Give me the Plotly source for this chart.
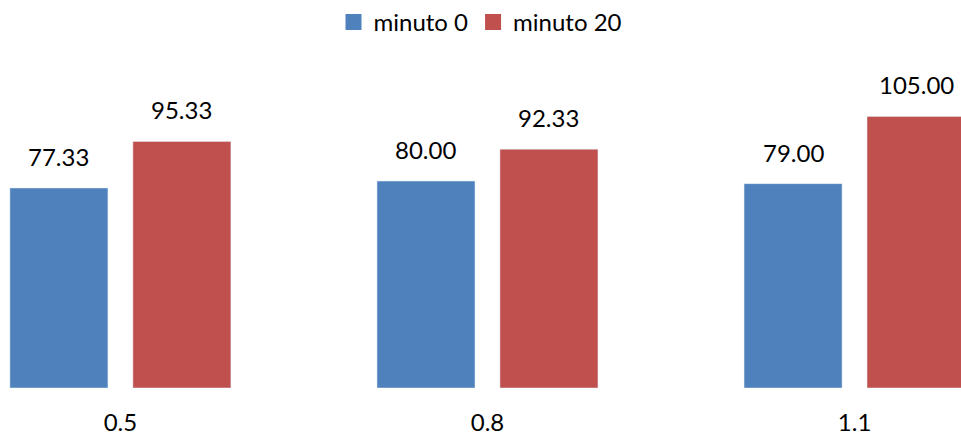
import plotly.graph_objects as go

# Chart data
categories = ["0.5", "0.8", "1.1"]
minute0 = [77.33, 80.00, 79.00]
minute20 = [95.33, 92.33, 105.00]
series_names = ["minuto 0", "minuto 20"]

BLUE = "#4F81BD"
RED = "#C0504D"
FONT = "Lato"
FSIZE = 24

idx = list(range(len(categories)))
bar_w = 0.267
gap = 0.068

fig = go.Figure()
fig.add_trace(go.Bar(
    x=idx, y=minute0, name=series_names[0], marker_color=BLUE,
    width=bar_w, offset=-(bar_w + gap / 2), showlegend=False,
))
fig.add_trace(go.Bar(
    x=idx, y=minute20, name=series_names[1], marker_color=RED,
    width=bar_w, offset=gap / 2, showlegend=False,
))

# legend entries with larger square swatches
for name, color in zip(series_names, [BLUE, RED]):
    fig.add_trace(go.Scatter(
        x=[None], y=[None], mode="markers", name=name,
        marker=dict(symbol="square", size=16, color=color),
    ))

# value labels above the bars
shift = bar_w / 2 + gap / 2
for i, v in zip(idx, minute0):
    fig.add_annotation(x=i - shift, y=v, text=f"{v:.2f}", showarrow=False,
                       yanchor="bottom", yshift=15,
                       font=dict(family=FONT, size=FSIZE, color="#000"))
for i, v in zip(idx, minute20):
    fig.add_annotation(x=i + shift, y=v, text=f"{v:.2f}", showarrow=False,
                       yanchor="bottom", yshift=15,
                       font=dict(family=FONT, size=FSIZE, color="#000"))

fig.update_layout(
    width=961, height=442,
    margin=dict(l=0, r=0, t=60, b=54),
    paper_bgcolor="white", plot_bgcolor="white",
    barmode="overlay",
    font=dict(family=FONT, size=FSIZE, color="#000"),
    showlegend=True,
    legend=dict(orientation="h", x=0.5, xanchor="center",
                yref="container", y=1, yanchor="top",
                font=dict(family=FONT, size=FSIZE), itemwidth=30,
                traceorder="normal"),
    xaxis=dict(range=[-0.328, 2.290], tickmode="array", tickvals=idx,
               ticktext=categories, showgrid=False, zeroline=False,
               showline=False, ticks="outside", ticklen=13,
               tickcolor="rgba(0,0,0,0)", tickfont=dict(size=FSIZE)),
    yaxis=dict(range=[0, 126.8], visible=False, showgrid=False),
)

fig.write_html("out.html")
